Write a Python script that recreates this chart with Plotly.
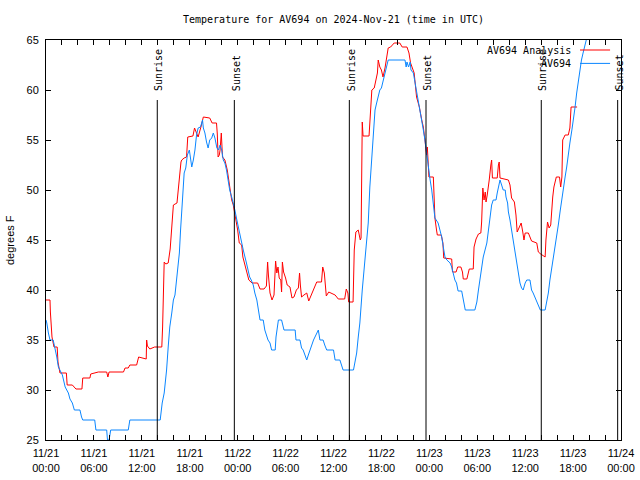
import pandas as pd
import plotly.graph_objects as go

# ---------------- data ----------------
base_time = "2024-11-21 00:00"

analysis_hours = [0, 0.5, 0.55, 0.75, 1.0, 1.4, 1.5, 1.75, 2.55, 2.65, 3.3, 3.75, 4.5, 4.6, 5.5, 5.6, 6.55, 7.6, 7.75, 7.9,
                  9.7, 9.9, 10.3, 10.5, 11.35, 11.6, 12.55, 12.6, 12.7, 13.0, 13.6, 14.5, 14.6, 14.7, 14.8, 15.0, 15.3,
                  15.55, 15.75, 15.95, 16.4, 16.65, 16.9, 17.0, 17.3, 17.6, 17.75, 18.4, 18.6, 18.8, 19.05, 19.4, 19.7,
                  20.5, 20.8, 21.35, 21.45, 21.55, 21.7, 21.8, 21.95, 22.1, 22.4, 22.7, 22.95, 23.25, 23.45, 23.8, 24.0,
                  24.2, 24.5, 24.65, 25.1, 25.4, 25.8, 26.5, 26.8, 27.3, 27.6, 27.75, 27.85, 28.05, 28.3, 28.55, 28.75,
                  28.9, 29.05, 29.2, 29.4, 29.5, 29.6, 29.75, 30.0, 30.2, 30.55, 30.8, 31.05, 31.35, 31.6, 31.75, 31.85,
                  32.0, 32.3, 32.65, 32.9, 33.1, 33.3, 33.55, 33.9, 34.5, 34.65, 34.85, 35.1, 35.4, 35.9, 36.2, 36.4,
                  36.6, 37.4, 37.6, 37.8, 37.9, 38.45, 38.6, 38.8, 39.1, 39.35, 39.45, 39.6, 39.7, 40.45, 40.65, 40.8,
                  41.1, 41.3, 41.5, 41.6, 41.8, 42.0, 42.2, 42.45, 42.65, 42.85, 43.15, 43.6, 44.3, 44.6, 45.2, 45.45,
                  45.65, 45.9, 46.1, 46.4, 46.75, 47.05, 47.25, 47.45, 47.65, 47.75, 47.85, 47.95, 48.5, 48.7, 48.9,
                  49.0, 49.5, 49.7, 49.8, 50.8, 50.9, 51.35, 51.55, 51.95, 52.15, 52.25, 52.7, 52.85, 53.0, 53.5, 53.6,
                  53.85, 54.15, 54.45, 54.55, 54.7, 54.85, 55.0, 55.1, 55.25, 55.4, 55.5, 55.7, 55.8, 55.9, 56.5, 56.65,
                  56.75, 56.85, 57.6, 57.9, 58.1, 58.3, 58.65, 58.85, 59.0, 59.3, 59.5, 59.7, 59.85, 60.0, 60.4, 60.6,
                  60.8, 61.45, 61.65, 61.95, 62.3, 62.5, 62.6, 62.8, 63.0, 63.2, 63.45, 63.6, 63.9, 64.3, 64.45, 64.6,
                  64.7, 65.0, 65.4, 65.6, 65.75, 66.5]
analysis_temps = [39, 39, 37.8, 35.3, 34.3, 34.3, 32.8, 31.7, 31.7, 30.5, 30.5, 30.1, 30.1, 31.2, 31.2, 31.6, 31.8, 31.8, 31.3, 31.8,
                  31.8, 32.2, 32.2, 32.5, 32.5, 33.3, 33.1, 35.0, 34.4, 34.1, 34.3, 34.3, 36.3, 40.7, 42.8, 42.6, 42.7,
                  44.1, 46.7, 48.5, 48.7, 51.0, 52.8, 53.0, 53.2, 53.3, 55.3, 55.4, 56.2, 55.8, 55.3, 56.3, 57.3,
                  57.2, 56.7, 56.7, 55.6, 53.3, 53.5, 54.0, 55.7, 53.3, 53.0, 52.0, 50.7, 49.0, 48.5, 47.0, 46.0,
                  44.7, 44.5, 43.3, 42.0, 41.0, 40.7, 40.7, 40.1, 40.1, 40.4, 42.8, 41.5, 39.7, 39.0, 39.5, 42.9,
                  41.7, 42.3, 41.2, 41.0, 39.8, 42.8, 41.8, 41.2, 40.5, 40.3, 39.2, 39.3, 40.0, 40.2, 41.7, 40.5,
                  39.3, 39.5, 39.7, 38.9, 39.3, 39.8, 40.3, 40.8, 40.8, 42.3, 41.7, 39.4, 39.8, 39.6, 39.5, 39.3,
                  39.1, 39.1, 40.1, 39.7, 38.8, 38.8, 44.0, 45.8, 46.0, 45.0, 45.2, 56.8, 55.4, 55.4, 57.7, 60.0,
                  60.2, 61.0, 61.7, 63.0, 62.3, 62.0, 61.3, 62.2, 63.3, 64.2, 64.3, 64.7, 64.7, 64.3, 64.3, 63.7,
                  62.7, 62.2, 61.7, 59.3, 58.3, 57.0, 56.3, 55.0, 53.5, 54.3, 52.2, 51.3, 51.3, 47.2, 46.0,
                  45.5, 45.5, 44.7, 43.2, 43.1, 41.8, 41.8, 42.3, 42.3, 41.8, 41.1, 41.1, 41.6, 42.1, 42.1, 44.3,
                  45.1, 45.6, 45.7, 46.8, 50.2, 49.0, 49.8, 48.8, 49.5, 50.2, 51.0, 52.5, 53.0, 51.2, 51.2, 52.5,
                  52.8, 51.2, 51.1, 51.0, 50.5, 49.2, 48.8, 47.5, 45.8, 46.3, 46.7, 45.8, 45.0, 45.7, 45.7, 45.3,
                  44.9, 44.7, 43.8, 43.6, 43.4, 43.3, 45.0, 46.8, 46.2, 46.5, 49.3, 50.3, 51.3, 51.3, 50.3, 51.3,
                  55.0, 55.5, 55.5, 56.2, 58.3, 58.3]

av694_hours = [0, 0.1, 0.3, 0.5, 0.9, 1.1, 1.35, 1.55, 1.75, 2.05, 2.4, 2.6, 2.8, 3.0, 3.3, 3.55, 4.25, 4.45, 4.6, 6.1,
               6.25, 7.6, 7.7, 7.9, 8.1, 10.3, 10.5, 14.3, 14.4, 14.55, 14.8, 15.0, 15.1, 15.3, 15.5, 15.75, 15.95,
               16.15, 16.35, 16.5, 16.7, 16.85, 17.05, 17.3, 17.5, 17.7, 17.95, 18.05, 18.25, 18.45, 18.65, 18.85,
               19.05, 19.35, 19.6, 19.7, 19.9, 20.1, 20.3, 20.5, 20.75, 20.95, 21.15, 21.4, 21.6, 21.8, 22.0, 22.2,
               22.4, 22.6, 22.8, 23.0, 23.25, 23.45, 23.65, 23.9, 24.3, 24.5, 24.7, 25.1, 25.5, 25.7, 25.95, 26.15,
               26.4, 26.6, 26.8, 27.2, 27.4, 27.8, 28.05, 28.25, 28.7, 28.8, 28.95, 29.1, 29.5, 29.8, 31.2, 31.3,
               31.8, 32.0, 32.2, 32.45, 32.65, 32.85, 33.05, 33.5, 33.8, 34.1, 34.3, 34.7, 34.9, 35.15, 36.0, 36.2,
               36.8, 37.0, 37.2, 38.5, 38.7, 38.9, 39.1, 39.3, 39.6, 39.95, 40.35, 40.55, 40.8, 41.0, 41.2, 41.4,
               41.6, 41.8, 42.0, 42.2, 42.45, 42.65, 42.85, 44.95, 45.1, 45.2, 45.4, 45.6, 45.7, 46.0, 46.2, 46.4,
               46.6, 46.85, 47.05, 47.25, 47.45, 47.7, 47.9, 48.1, 48.3, 48.5, 48.7, 49.1, 49.35, 49.55, 49.75,
               49.96, 50.2, 50.6, 50.8, 51.0, 51.2, 51.4, 51.6, 52.05, 52.2, 52.3, 52.5, 53.7, 53.95, 54.15, 54.35,
               54.55, 54.75, 55.2, 55.4, 55.6, 55.8, 56.0, 56.35, 56.5, 56.65, 56.85, 57.05, 57.25, 57.5, 57.6,
               57.8, 57.9, 58.1, 58.3, 58.5, 58.7, 58.9, 59.1, 59.35, 59.55, 59.75, 60.0, 60.2, 60.6, 60.8, 61.0,
               61.2, 61.45, 61.65, 61.9, 62.5, 62.7, 62.9, 63.1, 63.3, 63.5, 63.7, 63.95, 64.15, 64.4, 64.6, 64.8,
               65.0, 65.2, 65.4, 65.6, 65.85, 66.05, 66.25, 66.45, 66.65, 66.85, 67.05, 67.25, 67.45, 67.65, 68.1]
av694_temps = [37, 36.7, 35.7, 35, 35, 34.3, 33.3, 32.3, 32, 31.5, 30.3, 30, 29.7, 29.1, 28.7, 28, 28, 27.3, 27, 27,
               26, 26, 25, 25, 26, 26, 27, 27, 27.7, 28.7, 29.7, 31, 32, 34.3, 36.3, 37.7, 39,
               39.5, 41, 42.5, 43.7, 46, 48.3, 51.7, 52.2, 53.5, 54, 53.3, 52.3, 53, 54, 55.5,
               56.2, 56.3, 57, 56.2, 55.7, 54.8, 54.2, 55, 55.2, 55.7, 55.2, 54.2, 54, 54.5, 54, 53,
               52.7, 52, 51, 50, 49.3, 48.7, 48, 47, 45.3, 44.5, 44, 42.7, 41.3, 41, 40.5, 39.7,
               39, 38, 37, 37, 36, 35, 34.7, 34, 34, 35.3, 36.3, 37, 37, 36, 36, 35,
               35, 34.2, 34, 33.5, 33, 33.5, 34, 35, 35.5, 36, 35, 35, 34.5, 34, 34, 33,
               33, 32.5, 32, 32, 32.7, 33.7, 35.3, 36.7, 40, 43.5, 46.7, 50.3, 53.7, 56.3, 58, 58.7,
               59.5, 60, 60.2, 60.8, 61.7, 62.3, 63, 63, 62.3, 62.8, 62.3, 62.8, 62, 61.7, 60.8, 60.2,
               59.3, 57.8, 57, 56, 55, 53.3, 52, 51, 50, 48.3, 47.2, 46.7, 46, 45.3, 44.3,
               43.3, 43, 42.7, 42.3, 41.5, 41, 40.7, 39.9, 39.9, 39.3, 38.8, 38, 38, 38.8, 40, 41,
               42, 43.3, 44.7, 46, 47, 48.5, 49, 49, 49.7, 50.3, 51, 50.5, 50, 50, 49.3,
               48.7, 47.8, 47, 46, 45, 44, 42.7, 41.7, 40.7, 40.2, 40, 40.7, 41, 41, 40, 39.7,
               39.3, 39, 38.5, 38, 38, 38.7, 39.7, 41, 42, 43.3, 44, 45.5, 46.5, 48, 49.3, 50.3,
               51.3, 52.3, 53.7, 54.7, 56, 57, 58.3, 59.7, 61, 62, 63, 63.7, 64.3, 65, 67]

sun_times = ["2024-11-21 13:56", "2024-11-21 23:35", "2024-11-22 13:59",
             "2024-11-22 23:35", "2024-11-23 14:01", "2024-11-23 23:35"]
sun_labels = ["Sunrise", "Sunset", "Sunrise", "Sunset", "Sunrise", "Sunset"]

x_tick_vals = ["2024-11-21 00:00", "2024-11-21 06:00", "2024-11-21 12:00", "2024-11-21 18:00",
               "2024-11-22 00:00", "2024-11-22 06:00", "2024-11-22 12:00", "2024-11-22 18:00",
               "2024-11-23 00:00", "2024-11-23 06:00", "2024-11-23 12:00", "2024-11-23 18:00",
               "2024-11-24 00:00"]
x_tick_text = ["11/21<br>00:00", "11/21<br>06:00", "11/21<br>12:00", "11/21<br>18:00",
               "11/22<br>00:00", "11/22<br>06:00", "11/22<br>12:00", "11/22<br>18:00",
               "11/23<br>00:00", "11/23<br>06:00", "11/23<br>12:00", "11/23<br>18:00",
               "11/24<br>00:00"]
y_tick_vals = [25, 30, 35, 40, 45, 50, 55, 60, 65]

series_names = ["AV694 Analysis", "AV694"]
series_colors = ["#ff0000", "#0a86ff"]

# ---------------- figure ----------------
t0 = pd.Timestamp(base_time)
analysis_x = t0 + pd.to_timedelta(analysis_hours, unit="h")
av694_x = t0 + pd.to_timedelta(av694_hours, unit="h")

mono = "DejaVu Sans Mono"
sans = "Liberation Sans"

fig = go.Figure()
fig.add_trace(go.Scatter(x=analysis_x, y=analysis_temps, mode="lines", name=series_names[0],
                         line=dict(color=series_colors[0], width=1), showlegend=False))
fig.add_trace(go.Scatter(x=av694_x, y=av694_temps, mode="lines", name=series_names[1],
                         line=dict(color=series_colors[1], width=1), showlegend=False))

for t, lab in zip(sun_times, sun_labels):
    fig.add_shape(type="line", xref="x", yref="paper", x0=t, x1=t, y0=0, y1=0.85,
                  line=dict(color="black", width=1))
    fig.add_annotation(x=t, y=0.868, xref="x", yref="paper", text=lab, textangle=-90,
                       showarrow=False, xanchor="center", yanchor="bottom", xshift=2,
                       font=dict(family=mono, size=10, color="black"))

# gnuplot-style legend (text right, sample line on the right)
leg_y = [0.975, 0.9415]
for name, col, yy in zip(series_names, series_colors, leg_y):
    fig.add_annotation(x=0.9165, y=yy, xref="paper", yref="paper", text=name, showarrow=False,
                       xanchor="right", yanchor="middle", font=dict(family=mono, size=10, color="black"))
    fig.add_shape(type="line", xref="paper", yref="paper", x0=0.9287, x1=0.981, y0=yy, y1=yy,
                  line=dict(color=col, width=1))

# y-axis title
fig.add_annotation(x=0, y=0.5, xref="paper", yref="paper", text="degrees F", textangle=-90,
                   showarrow=False, xshift=-36, xanchor="center", yanchor="middle",
                   font=dict(family=sans, size=11, color="black"))

fig.update_layout(
    width=640, height=480, autosize=False,
    margin=dict(l=46, r=19, t=40, b=40, autoexpand=False),
    paper_bgcolor="white", plot_bgcolor="white",
    title=dict(text="Temperature for AV694 on 2024-Nov-21 (time in UTC)", x=0.5, xref="paper",
               y=1 - 19 / 480, yref="container", xanchor="center", yanchor="middle",
               font=dict(family=mono, size=10, color="black")),
    xaxis=dict(range=["2024-11-21 00:00", "2024-11-24 00:00"], type="date", automargin=False,
               tickvals=x_tick_vals, ticktext=x_tick_text, ticklabelstandoff=3,
               showline=True, linecolor="black", linewidth=1, mirror="ticks",
               ticks="inside", ticklen=5, tickcolor="black", showgrid=False, zeroline=False,
               tickfont=dict(family=sans, size=11, color="black"),
               minor=dict(ticks="inside", ticklen=5, tickcolor="black", dtick=2 * 3600 * 1000,
                          showgrid=False)),
    yaxis=dict(range=[25, 65], tickvals=y_tick_vals, automargin=False, ticklabelstandoff=4,
               showline=True, linecolor="black", linewidth=1, mirror="ticks",
               ticks="inside", ticklen=5, tickcolor="black", showgrid=False, zeroline=False,
               tickfont=dict(family=sans, size=11, color="black")),
)

fig.write_html("out.html", config={"displayModeBar": False},
               post_script="document.body.style.margin='0';document.body.style.overflow='hidden';")
